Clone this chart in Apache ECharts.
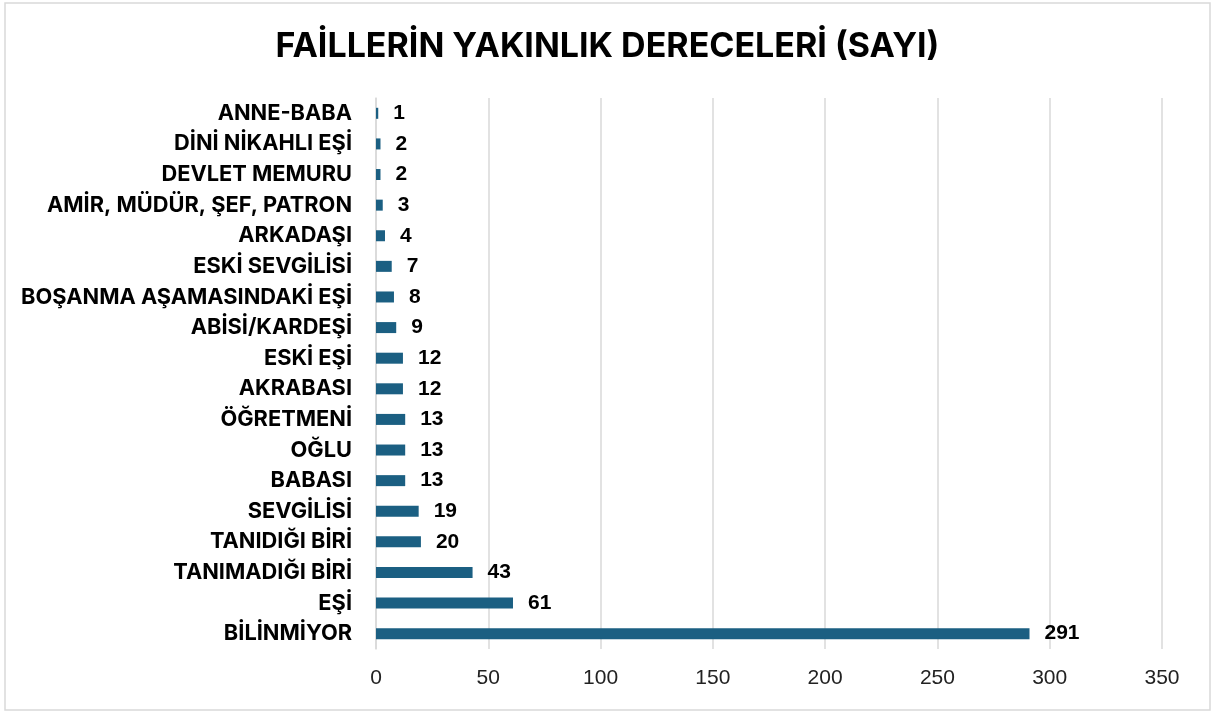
<!DOCTYPE html>
<html>
<head>
<meta charset="utf-8">
<script src="https://cdn.jsdelivr.net/npm/echarts@6/dist/echarts.min.js"></script>
<style>
  html, body { margin: 0; padding: 0; background: #fff; }
  #chart { width: 1215px; height: 713px; }
</style>
</head>
<body>
<div id="chart"></div>
<script>
// kategoriler (yukaridan asagiya)
const categories = [
  'ANNE-BABA', 'DİNİ NİKAHLI EŞİ', 'DEVLET MEMURU', 'AMİR, MÜDÜR, ŞEF, PATRON',
  'ARKADAŞI', 'ESKİ SEVGİLİSİ', 'BOŞANMA AŞAMASINDAKİ EŞİ', 'ABİSİ/KARDEŞİ',
  'ESKİ EŞİ', 'AKRABASI', 'ÖĞRETMENİ', 'OĞLU', 'BABASI', 'SEVGİLİSİ',
  'TANIDIĞI BİRİ', 'TANIMADIĞI BİRİ', 'EŞİ', 'BİLİNMİYOR'
];
const counts = [1, 2, 2, 3, 4, 7, 8, 9, 12, 12, 13, 13, 13, 19, 20, 43, 61, 291];
const xTicks = { min: 0, max: 350, step: 50 };

const myChart = echarts.init(document.getElementById('chart'));

const option = {
  backgroundColor: '#fff',
  animation: false,
  title: {
    text: 'FAİLLERİN YAKINLIK DERECELERİ (SAYI)',
    left: 'center',
    top: 25,
    textStyle: {
      fontFamily: 'Inter',
      fontSize: 34,
      fontWeight: 'bold',
      color: '#000'
    }
  },
  graphic: [{
    type: 'rect',
    shape: { x: 5, y: 3, width: 1205, height: 707 },
    style: { fill: 'none', stroke: '#d9d9d9', lineWidth: 1.5 },
    silent: true
  }],
  grid: {
    left: 376,
    right: 53,
    top: 98,
    bottom: 64,
    containLabel: false
  },
  xAxis: {
    type: 'value',
    min: xTicks.min,
    max: xTicks.max,
    interval: xTicks.step,
    axisLine: { show: false },
    axisTick: { show: false },
    splitLine: { show: true, lineStyle: { color: '#d9d9d9', width: 1.5 } },
    axisLabel: {
      fontFamily: 'Liberation Sans',
      fontSize: 21,
      color: '#222',
      margin: 19
    }
  },
  yAxis: {
    type: 'category',
    data: categories,
    inverse: true,
    axisLine: { show: true, lineStyle: { color: '#d9d9d9', width: 1.5 } },
    axisTick: { show: false },
    axisLabel: {
      fontFamily: 'Inter',
      fontWeight: 'bold',
      fontSize: 21.8,
      color: '#000',
      margin: 24
    }
  },
  series: [{
    type: 'bar',
    data: counts,
    barWidth: 11,
    itemStyle: { color: '#1b5f82' },
    label: {
      show: true,
      position: 'right',
      distance: 15,
      fontFamily: 'Liberation Sans',
      fontWeight: 'bold',
      fontSize: 21,
      color: '#000'
    }
  }]
};

myChart.setOption(option);
window.addEventListener('resize', () => {
  myChart.resize();
});
</script>
</body>
</html>
